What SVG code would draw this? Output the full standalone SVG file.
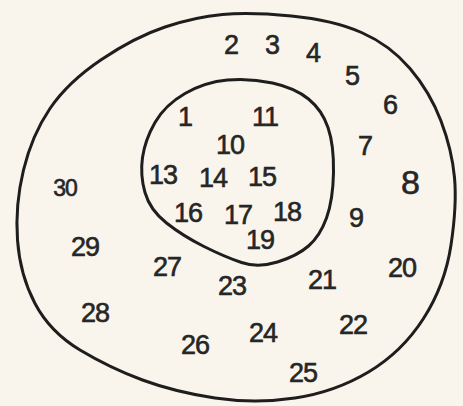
<svg xmlns="http://www.w3.org/2000/svg" width="463" height="406" viewBox="0 0 463 406">
<style>
.loop{fill:none;stroke:#1e1e1e;stroke-width:3;stroke-linejoin:round}
text{font-family:"Liberation Sans","DejaVu Sans",sans-serif;font-size:27px;fill:#262626;stroke:#262626;stroke-width:0.6;letter-spacing:-1px;text-anchor:middle;dominant-baseline:central}
.big{font-size:34px}
.small{font-size:23px}
</style>
<rect width="463" height="406" fill="#f9f5ec"/>
<g id="outer">
<path class="loop" d="M222.5,14.5 Q250,12 291.5,16 Q333,20 361.5,32.5 Q390,45 410,68.5 Q430,92 441,121 Q452,150 454.5,177.5 Q457,205 451,245 Q445,285 423.5,318.5 Q402,352 368.5,372 Q335,392 295,398 Q255,404 215,398 Q175,392 142.5,380 Q110,368 80,350 Q50,332 35,303.5 Q20,275 17.5,240 Q15,205 23.5,170 Q32,135 50,108.5 Q68,82 101.5,59.5 Q135,37 165,27 Q195,17 222.5,14.5 Z"/>
</g>
<g id="inner">
<path class="loop" d="M227.5,80 Q250,78 272.5,83 Q295,88 308.5,99 Q322,110 328,127.5 Q334,145 333.5,172.5 Q333,200 326.5,218 Q320,236 308.5,246 Q297,256 277.5,262 Q258,268 241.5,262.5 Q225,257 204,246.5 Q183,236 166.5,223 Q150,210 145,192.5 Q140,175 142.5,157.5 Q145,140 155,122.5 Q165,105 185,93.5 Q205,82 227.5,80 Z"/>
</g>
<g id="labels-outer">
<text x="231" y="45">2</text>
<text x="272" y="45">3</text>
<text x="313" y="53">4</text>
<text x="352" y="76">5</text>
<text x="390" y="105">6</text>
<text x="365" y="146">7</text>
<text class="big" x="410" y="182">8</text>
<text x="356" y="218">9</text>
<text x="402" y="268">20</text>
<text x="322" y="280">21</text>
<text x="353" y="325">22</text>
<text x="232" y="286">23</text>
<text x="263" y="333">24</text>
<text x="303" y="373">25</text>
<text x="195" y="345">26</text>
<text x="167" y="267">27</text>
<text x="95" y="313">28</text>
<text x="85" y="247">29</text>
<text class="small" x="65" y="188">30</text>
</g>
<g id="labels-inner">
<text x="185" y="117">1</text>
<text x="265" y="117">11</text>
<text x="230" y="145">10</text>
<text x="163" y="175">13</text>
<text x="213" y="178">14</text>
<text x="262" y="177">15</text>
<text x="188" y="213">16</text>
<text x="238" y="215">17</text>
<text x="287" y="212">18</text>
<text x="260" y="240">19</text>
</g>
</svg>
